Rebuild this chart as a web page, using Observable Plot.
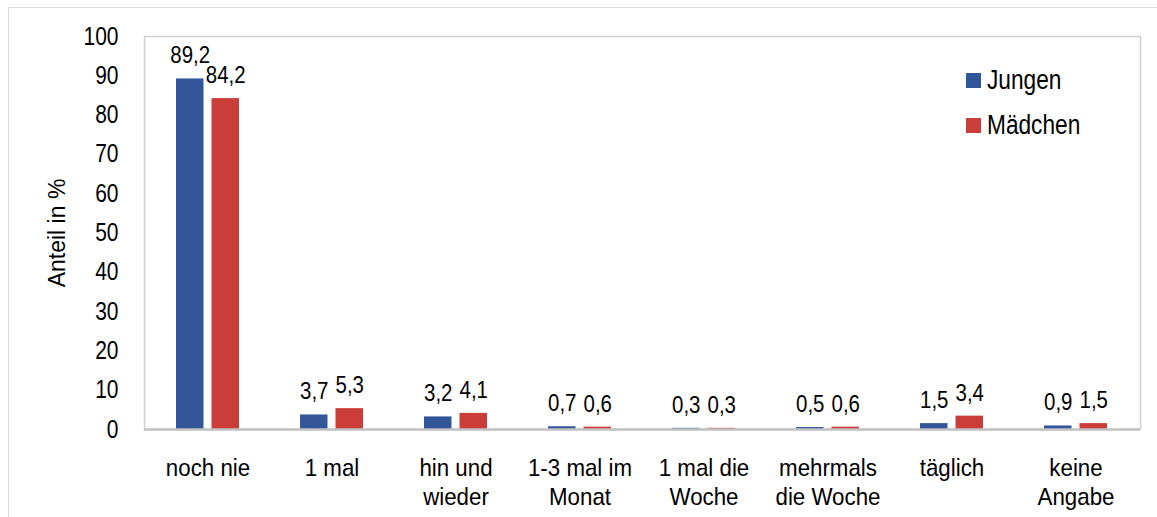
<!DOCTYPE html>
<html>
<head>
<meta charset="utf-8">
<script src="https://cdn.jsdelivr.net/npm/d3@7"></script>
<script src="https://cdn.jsdelivr.net/npm/@observablehq/plot@0.6"></script>
<style>
  html, body { margin: 0; padding: 0; background: #fff; }
  #wrap { position: relative; width: 1157px; height: 517px; overflow: hidden;
          font-family: "Liberation Sans", Arial, sans-serif; }
  #outer { position: absolute; left: 8px; top: 7px; width: 1200px; height: 560px;
           border-left: 1.5px solid #d9d9d9; border-top: 1.5px solid #d9d9d9; }
  #chart { position: absolute; left: 0; top: 0; }
  #legend { position: absolute; left: 966px; top: 65px; }
  .row { display: flex; align-items: center; height: 30px; margin-bottom: 15px;
         font-size: 27px; color: #000; }
  .row span { display: inline-block; transform: scaleX(0.84); transform-origin: left center; white-space: nowrap; }
  .sw { width: 15px; height: 15px; margin-right: 6px; flex: none; }
</style>
</head>
<body>
<div id="wrap">
  <div id="outer"></div>
  <div id="chart"></div>
  <div id="legend"></div>
</div>
<script>
const categories = ["noch nie", "1 mal", "hin und wieder", "1-3 mal im Monat", "1 mal die Woche", "mehrmals die Woche", "täglich", "keine Angabe"];
const tickLabels = ["noch nie", "1 mal", "hin und\nwieder", "1-3 mal im\nMonat", "1 mal die\nWoche", "mehrmals\ndie Woche", "täglich", "keine\nAngabe"];
const jungen = [89.2, 3.7, 3.2, 0.7, 0.3, 0.5, 1.5, 0.9];
const maedchen = [84.2, 5.3, 4.1, 0.6, 0.3, 0.6, 3.4, 1.5];
const seriesNames = ["Jungen", "Mädchen"];
const seriesColors = ["#33569b", "#ca3d38"];
const yTicks = [0, 10, 20, 30, 40, 50, 60, 70, 80, 90, 100];
const yLabel = "Anteil in %";

const rowsJ = categories.map((c, i) => ({cat: c, series: seriesNames[0], value: jungen[i]}));
const rowsM = categories.map((c, i) => ({cat: c, series: seriesNames[1], value: maedchen[i]}));
const fmt = v => v.toFixed(1).replace(".", ",");

const chart = Plot.plot({
  width: 1157,
  height: 517,
  marginLeft: 144,
  marginRight: 17,
  marginTop: 36,
  marginBottom: 88,
  style: {fontFamily: '"Liberation Sans", Arial, sans-serif', background: "transparent", color: "#000"},
  x: {domain: categories, paddingInner: 0.49, paddingOuter: 0.245},
  y: {domain: [0, 100]},
  color: {domain: seriesNames, range: seriesColors},
  marks: [
    Plot.frame({stroke: "#d0d0d0", strokeWidth: 1.5}),
    Plot.barY(rowsJ, {x: "cat", y: "value", fill: "series", insetLeft: 0, insetRight: 35.5}),
    Plot.barY(rowsM, {x: "cat", y: "value", fill: "series", insetLeft: 35.5, insetRight: 0}),
    Plot.ruleY([0], {stroke: "#c2c2c2", strokeWidth: 2.5}),
    Plot.text(rowsJ, {x: "cat", y: "value", text: d => fmt(d.value), dx: -17.75, dy: -23, fontSize: 23.5, fill: "#000", ariaLabel: "data label"}),
    Plot.text(rowsM, {x: "cat", y: "value", text: d => fmt(d.value), dx: 17.75, dy: -23, fontSize: 23.5, fill: "#000", ariaLabel: "data label"}),
    Plot.axisY({ticks: yTicks, tickSize: 0, tickPadding: 26, fontSize: 25, label: null}),
    Plot.axisY({ticks: [], label: yLabel, labelAnchor: "center", labelOffset: 96, labelArrow: "none", fontSize: 23}),
    Plot.axisX({tickSize: 0, tickPadding: 26, fontSize: 24, lineHeight: 1.21, label: null,
                tickFormat: d => tickLabels[categories.indexOf(d)]})
  ]
});

// horizontally condense the (non-rotated) texts, like the reference's narrow face
function condense(t, k) {
  const tr = t.getAttribute("transform");
  if (tr && tr.includes("rotate")) return;
  if (tr) t.setAttribute("transform", tr + ` scale(${k},1)`);
  else {
    const x = +t.getAttribute("x") || 0;
    t.setAttribute("transform", `translate(${x},0) scale(${k},1) translate(${-x},0)`);
  }
}
chart.querySelectorAll("text").forEach(t => {
  const g = t.closest("g[aria-label]");
  const lab = g ? g.getAttribute("aria-label") : "";
  let k = 0.87;
  if (lab.includes("x-axis")) k = 0.93;
  else if (lab.includes("y-axis")) k = 0.84;
  else if (lab.includes("data label")) k = 0.83;
  condense(t, k);
});
document.getElementById("chart").appendChild(chart);

const legend = document.getElementById("legend");
seriesNames.forEach((name, i) => {
  const row = document.createElement("div");
  row.className = "row";
  const sw = document.createElement("div");
  sw.className = "sw";
  sw.style.background = seriesColors[i];
  const t = document.createElement("span");
  t.textContent = name;
  row.appendChild(sw);
  row.appendChild(t);
  legend.appendChild(row);
});
</script>
</body>
</html>
